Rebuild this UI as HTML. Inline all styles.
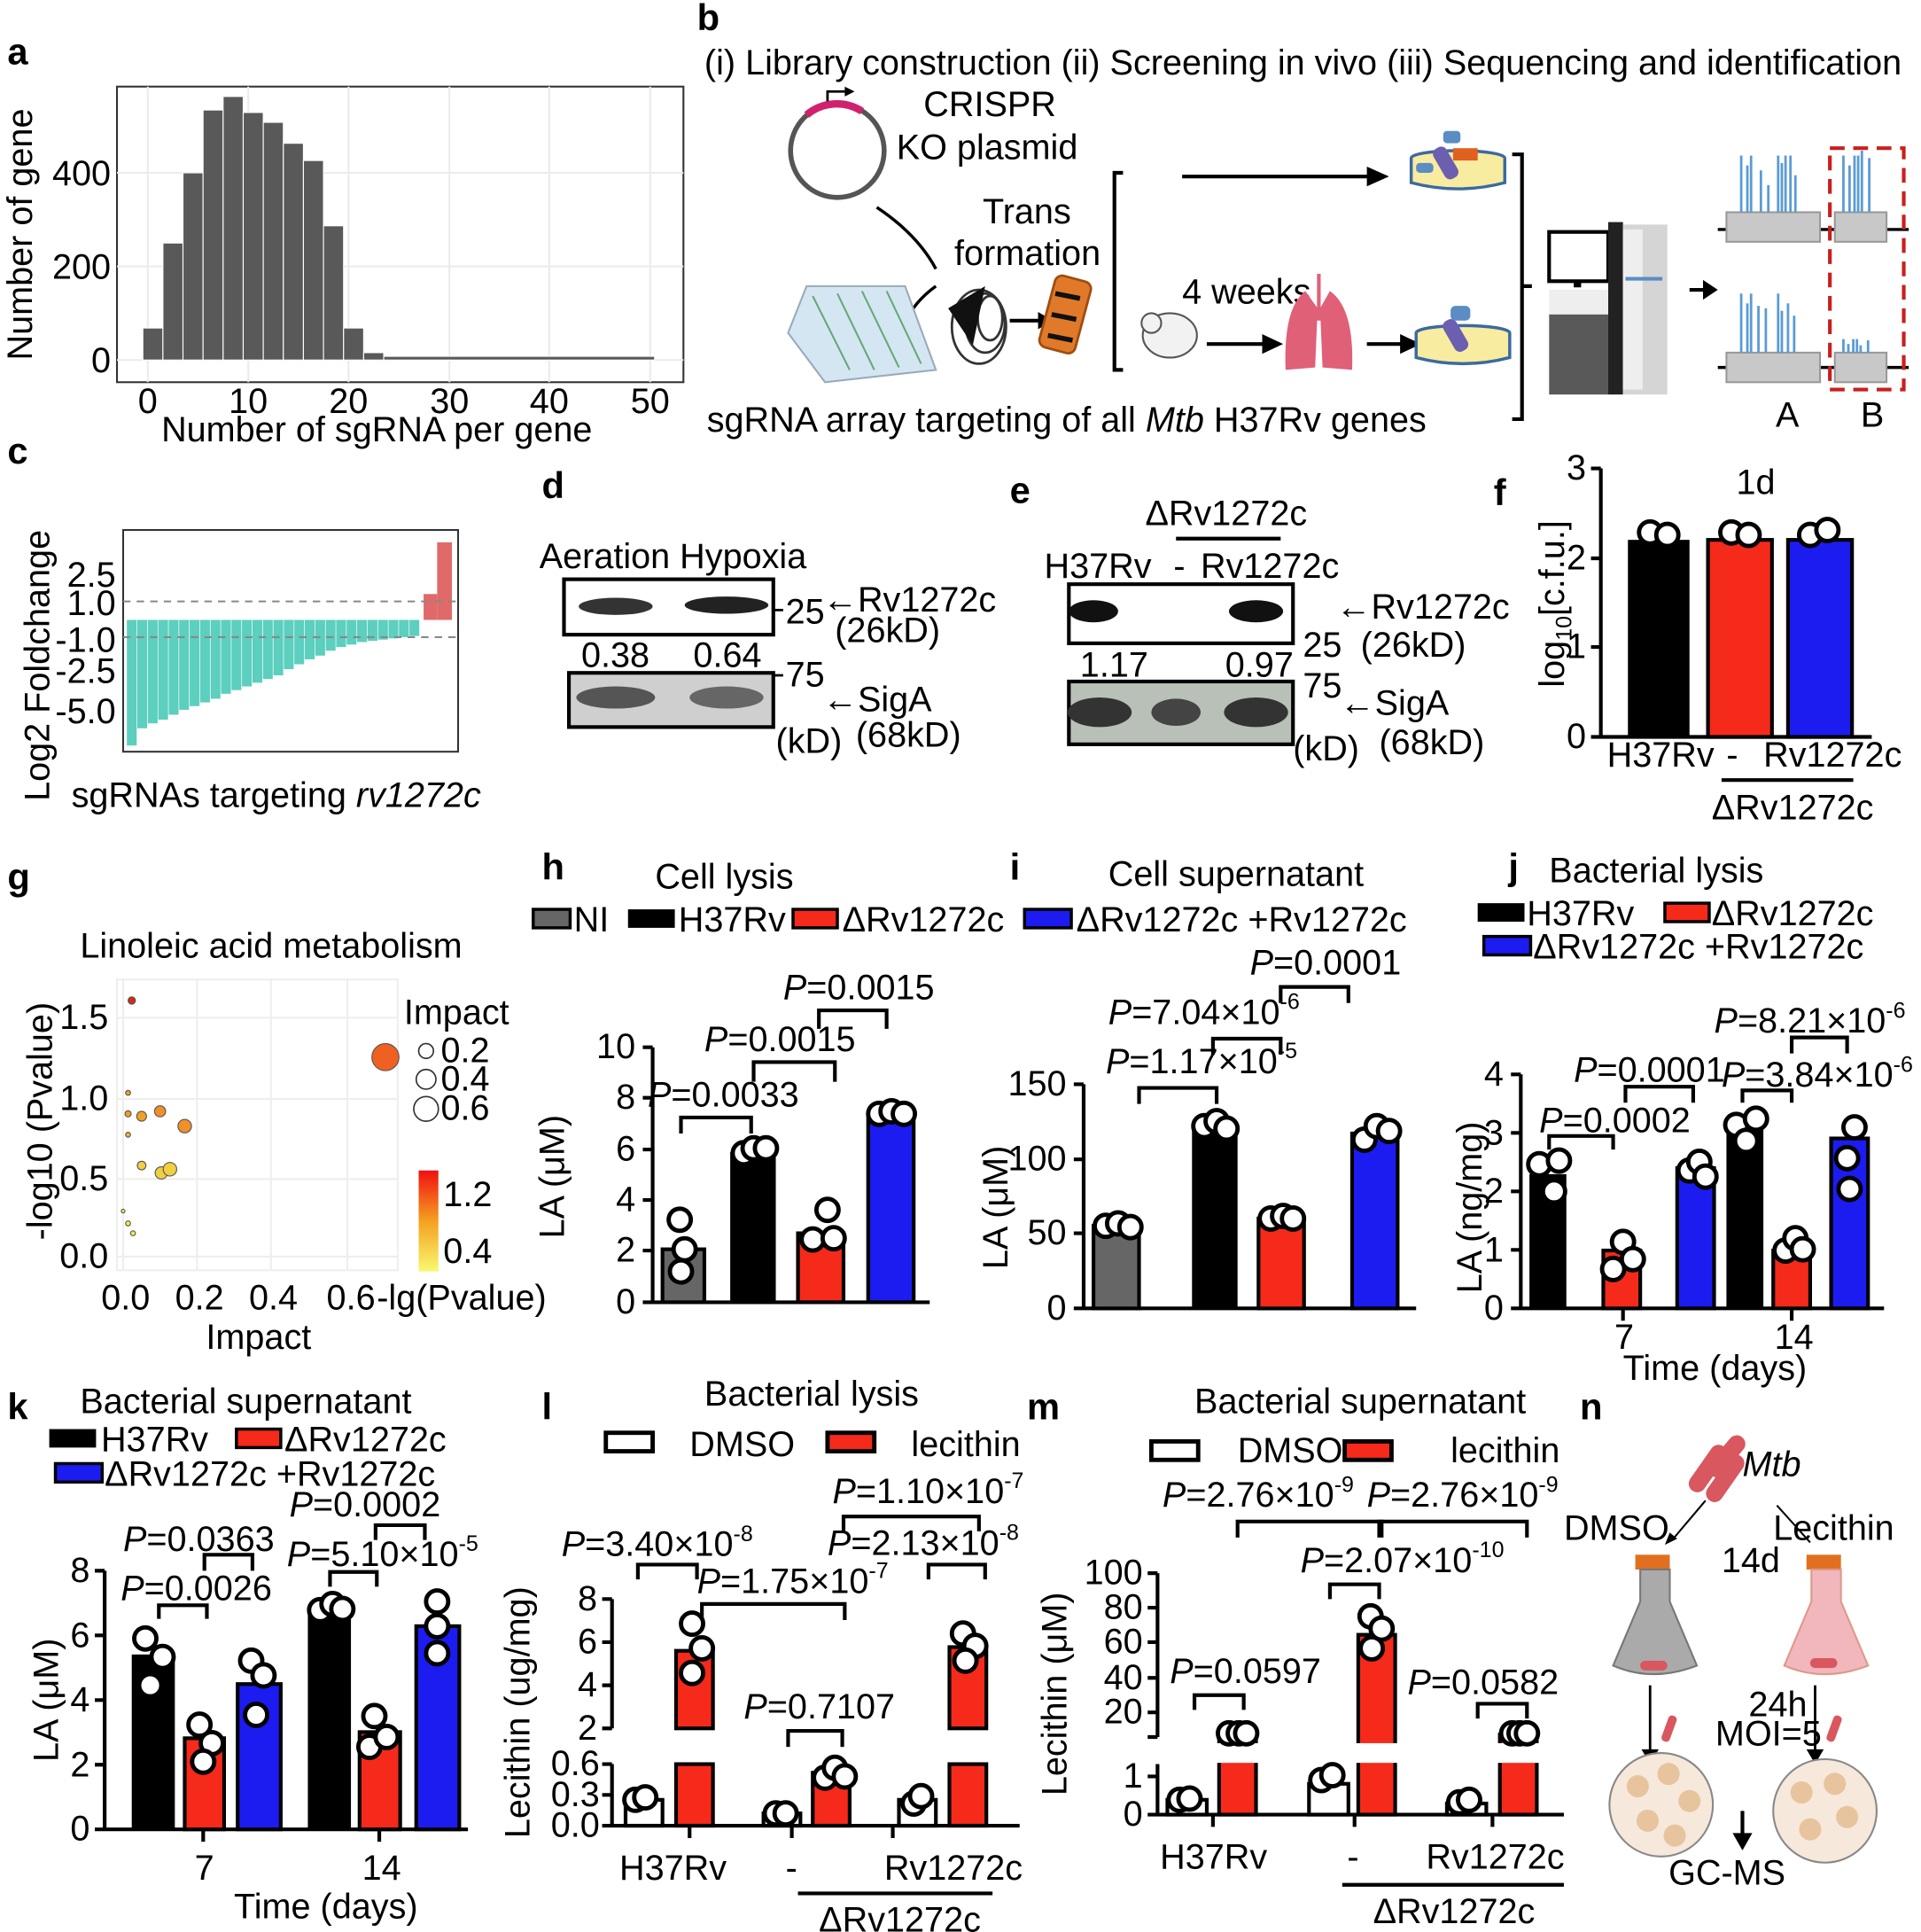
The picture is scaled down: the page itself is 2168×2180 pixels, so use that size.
<!DOCTYPE html>
<html><head><meta charset="utf-8">
<style>
html,body{margin:0;padding:0;background:#fff;}
svg{display:block;}
text{font-family:"Liberation Sans",sans-serif;font-size:28.5px;fill:#000;}
.b{font-weight:bold;font-size:30px;}
.s{font-size:18px;}
.ax{stroke:#000;stroke-width:3;fill:none;}
.br{stroke:#000;stroke-width:3;fill:none;}
.d{fill:#fff;stroke:#000;stroke-width:3.5;}
</style></head><body>
<svg width="2168" height="2180" viewBox="0 0 1560 1568" xmlns="http://www.w3.org/2000/svg">
<rect width="1560" height="1568" fill="#fff"/>

<!-- ===== a ===== -->
<text x="6" y="52" class="b">a</text>
<rect x="95" y="70" width="460" height="240" fill="#fff" stroke="#333" stroke-width="1.5"/>
<g stroke="#ebebeb" stroke-width="1.5">
<line x1="120" y1="70" x2="120" y2="310"/><line x1="201.6" y1="70" x2="201.6" y2="310"/><line x1="283" y1="70" x2="283" y2="310"/><line x1="365" y1="70" x2="365" y2="310"/><line x1="446" y1="70" x2="446" y2="310"/><line x1="528" y1="70" x2="528" y2="310"/>
<line x1="95" y1="292" x2="555" y2="292"/><line x1="95" y1="216" x2="555" y2="216"/><line x1="95" y1="140" x2="555" y2="140"/>
</g>
<g fill="#595959" stroke="#fff" stroke-width="0.8">
<rect x="116" y="266" width="16.3" height="26"/>
<rect x="132.3" y="197" width="16.3" height="95"/>
<rect x="148.6" y="140" width="16.3" height="152"/>
<rect x="164.9" y="89" width="16.3" height="203"/>
<rect x="181.2" y="78" width="16.3" height="214"/>
<rect x="197.5" y="91" width="16.3" height="201"/>
<rect x="213.8" y="99" width="16.3" height="193"/>
<rect x="230.1" y="116" width="16.3" height="176"/>
<rect x="246.4" y="130" width="16.3" height="162"/>
<rect x="262.7" y="183" width="16.3" height="109"/>
<rect x="279" y="266" width="16.3" height="26"/>
<rect x="295.3" y="286" width="16.3" height="6"/>
<rect x="311.6" y="289" width="220" height="3"/>
</g>
<g text-anchor="end"><text x="90" y="302">0</text><text x="90" y="226">200</text><text x="90" y="150">400</text></g>
<g text-anchor="middle"><text x="120" y="335">0</text><text x="201.6" y="335">10</text><text x="283" y="335">20</text><text x="365" y="335">30</text><text x="446" y="335">40</text><text x="528" y="335">50</text>
<text x="306" y="358">Number of sgRNA per gene</text>
<text transform="translate(26,190) rotate(-90)">Number of gene</text></g>

<!-- ===== b ===== -->
<text x="566" y="24" class="b">b</text>
<text x="572" y="60">(i) Library construction (ii) Screening in vivo (iii) Sequencing and identification</text>
<circle cx="680" cy="122" r="38" fill="none" stroke="#555" stroke-width="4"/>
<path d="M655 93 A38 38 0 0 1 700 90" fill="none" stroke="#d0216e" stroke-width="6"/>
<path d="M672 82 L672 74 L688 74" fill="none" stroke="#000" stroke-width="2"/><path d="M686 70 L694 74 L686 78Z"/>
<text x="750" y="94">CRISPR</text><text x="728" y="129">KO plasmid</text>
<text x="798" y="181">Trans</text><text x="775" y="215">formation</text>
<path d="M712 168 Q745 190 760 218" fill="none" stroke="#000" stroke-width="2.5"/>
<path d="M760 232 Q742 245 735 262" fill="none" stroke="#000" stroke-width="2.5"/>
<polygon points="655,232 735,232 760,300 670,310 640,270" fill="#d5e6f3" stroke="#9ab" stroke-width="1.5"/>
<g stroke="#6a7" stroke-width="1.5"><line x1="660" y1="240" x2="690" y2="300"/><line x1="680" y1="238" x2="710" y2="300"/><line x1="700" y1="236" x2="730" y2="298"/><line x1="720" y1="236" x2="748" y2="295"/></g>
<g fill="none" stroke="#333" stroke-width="2"><ellipse cx="795" cy="265" rx="22" ry="30"/><ellipse cx="800" cy="262" rx="16" ry="24"/><ellipse cx="804" cy="258" rx="10" ry="18"/></g>
<polygon points="770,250 800,232 790,280" fill="#111"/>
<line x1="820" y1="260" x2="845" y2="260" stroke="#000" stroke-width="3"/><path d="M843 253 L855 260 L843 267Z"/>
<rect x="850" y="225" width="30" height="60" rx="6" fill="#e07a2a" stroke="#a04d10" stroke-width="2" transform="rotate(15 865 255)"/>
<g stroke="#111" stroke-width="4"><line x1="857" y1="238" x2="877" y2="242"/><line x1="854" y1="255" x2="874" y2="259"/><line x1="851" y1="272" x2="871" y2="276"/></g>
<path d="M912 140 L905 140 L905 300 L912 300" class="br"/>
<line x1="960" y1="143" x2="1115" y2="143" stroke="#000" stroke-width="3"/><path d="M1110 135 L1128 143 L1110 151Z"/>
<g><ellipse cx="1184" cy="128" rx="38" ry="6" fill="#f8eca0" stroke="#3b6aa0" stroke-width="2.5"/><path d="M1146 128 L1146 148 Q1184 158 1222 148 L1222 128" fill="#f8eca0" stroke="#3b6aa0" stroke-width="2.5"/>
<rect x="1168" y="118" width="12" height="28" rx="5" fill="#6c5fb0" transform="rotate(-30 1174 132)"/><rect x="1180" y="120" width="20" height="10" fill="#e06020"/><rect x="1150" y="132" width="14" height="8" rx="3" fill="#5b8dc4"/><rect x="1172" y="106" width="14" height="10" rx="3" fill="#5b8dc4"/></g>
<text x="960" y="246">4 weeks</text>
<ellipse cx="950" cy="272" rx="22" ry="18" fill="#f2f2f2" stroke="#555" stroke-width="1.5"/><circle cx="935" cy="262" r="8" fill="#f2f2f2" stroke="#555" stroke-width="1.5"/>
<line x1="980" y1="279" x2="1028" y2="279" stroke="#000" stroke-width="3"/><path d="M1025 271 L1042 279 L1025 287Z"/>
<path d="M1060 236 Q1042 250 1044 300 L1068 298 L1070 250 Z" fill="#e06078"/><path d="M1080 236 Q1100 250 1098 300 L1074 298 L1072 250 Z" fill="#e06078"/>
<line x1="1071" y1="222" x2="1071" y2="260" stroke="#e06078" stroke-width="3"/>
<line x1="1110" y1="279" x2="1140" y2="279" stroke="#000" stroke-width="3"/><path d="M1137 271 L1154 279 L1137 287Z"/>
<g><ellipse cx="1188" cy="270" rx="38" ry="6" fill="#f8eca0" stroke="#3b6aa0" stroke-width="2.5"/><path d="M1150 270 L1150 290 Q1188 300 1226 290 L1226 270" fill="#f8eca0" stroke="#3b6aa0" stroke-width="2.5"/>
<rect x="1176" y="258" width="12" height="28" rx="5" fill="#6c5fb0" transform="rotate(-30 1182 272)"/><rect x="1178" y="248" width="16" height="12" rx="4" fill="#5b8dc4"/></g>
<path d="M1228 125 L1236 125 L1236 340 L1228 340 M1236 232 L1244 232" class="br"/>
<rect x="1258" y="188" width="48" height="40" fill="#fff" stroke="#000" stroke-width="3"/><rect x="1278" y="228" width="6" height="5"/>
<rect x="1258" y="235" width="48" height="20" fill="#eee"/><rect x="1258" y="255" width="48" height="65" fill="#595959"/>
<rect x="1306" y="180" width="12" height="140" fill="#222"/>
<rect x="1318" y="182" width="36" height="138" fill="#d5d5d5"/><rect x="1318" y="186" width="16" height="130" fill="#eee"/>
<line x1="1320" y1="226" x2="1350" y2="226" stroke="#5b8dc4" stroke-width="3"/>
<line x1="1372" y1="235" x2="1385" y2="235" stroke="#000" stroke-width="3"/><path d="M1383 227 L1395 235 L1383 243Z"/>
<line x1="1395" y1="186" x2="1550" y2="186" stroke="#000" stroke-width="2.5"/>
<rect x="1402" y="172" width="76" height="24" fill="#c8c8c8" stroke="#999" stroke-width="1.5"/><rect x="1490" y="172" width="42" height="24" fill="#c8c8c8" stroke="#999" stroke-width="1.5"/>
<g stroke="#5b9bd5" stroke-width="2"><line x1="1414" y1="172" x2="1414" y2="126"/><line x1="1419" y1="172" x2="1419" y2="134"/><line x1="1422" y1="172" x2="1422" y2="126"/><line x1="1430" y1="172" x2="1430" y2="138"/><line x1="1436" y1="172" x2="1436" y2="150"/><line x1="1444" y1="172" x2="1444" y2="126"/><line x1="1447" y1="172" x2="1447" y2="132"/><line x1="1450" y1="172" x2="1450" y2="126"/><line x1="1454" y1="172" x2="1454" y2="126"/><line x1="1458" y1="172" x2="1458" y2="142"/>
<line x1="1497" y1="172" x2="1497" y2="126"/><line x1="1502" y1="172" x2="1502" y2="134"/><line x1="1506" y1="172" x2="1506" y2="126"/><line x1="1509" y1="172" x2="1509" y2="126"/><line x1="1512" y1="172" x2="1512" y2="122"/><line x1="1518" y1="172" x2="1518" y2="128"/></g>
<line x1="1395" y1="298" x2="1550" y2="298" stroke="#000" stroke-width="2.5"/>
<rect x="1402" y="286" width="76" height="24" fill="#c8c8c8" stroke="#999" stroke-width="1.5"/><rect x="1490" y="286" width="42" height="24" fill="#c8c8c8" stroke="#999" stroke-width="1.5"/>
<g stroke="#5b9bd5" stroke-width="2"><line x1="1414" y1="286" x2="1414" y2="238"/><line x1="1419" y1="286" x2="1419" y2="246"/><line x1="1422" y1="286" x2="1422" y2="238"/><line x1="1428" y1="286" x2="1428" y2="248"/><line x1="1434" y1="286" x2="1434" y2="250"/><line x1="1444" y1="286" x2="1444" y2="238"/><line x1="1447" y1="286" x2="1447" y2="252"/><line x1="1452" y1="286" x2="1452" y2="246"/><line x1="1457" y1="286" x2="1457" y2="256"/>
<line x1="1497" y1="286" x2="1497" y2="275"/><line x1="1501" y1="286" x2="1501" y2="279"/><line x1="1505" y1="286" x2="1505" y2="275"/><line x1="1508" y1="286" x2="1508" y2="275"/><line x1="1511" y1="286" x2="1511" y2="280"/><line x1="1517" y1="286" x2="1517" y2="276"/></g>
<rect x="1486" y="120" width="60" height="196" fill="none" stroke="#c8201e" stroke-width="3" stroke-dasharray="12 7"/>
<text x="1442" y="346">A</text><text x="1511" y="346">B</text>
<text x="574" y="350">sgRNA array targeting of all <tspan font-style="italic">Mtb</tspan> H37Rv genes</text>

<!-- ===== c ===== -->
<text x="6" y="376" class="b">c</text>
<rect x="100" y="430" width="272" height="180" fill="#fff" stroke="#333" stroke-width="1.5"/>
<g fill="#5ccfbf">
<rect x="103" y="503" width="8" height="102"/><rect x="111.5" y="503" width="8" height="88"/><rect x="120" y="503" width="8" height="84"/><rect x="128.5" y="503" width="8" height="81"/><rect x="137" y="503" width="8" height="77"/><rect x="145.5" y="503" width="8" height="73"/><rect x="154" y="503" width="8" height="70"/><rect x="162.5" y="503" width="8" height="67"/><rect x="171" y="503" width="8" height="64"/><rect x="179.5" y="503" width="8" height="60"/><rect x="188" y="503" width="8" height="57"/><rect x="196.5" y="503" width="8" height="54"/><rect x="205" y="503" width="8" height="51"/><rect x="213.5" y="503" width="8" height="48"/><rect x="222" y="503" width="8" height="45"/><rect x="230.5" y="503" width="8" height="40"/><rect x="239" y="503" width="8" height="36"/><rect x="247.5" y="503" width="8" height="32"/><rect x="256" y="503" width="8" height="29"/><rect x="264.5" y="503" width="8" height="25"/><rect x="273" y="503" width="8" height="22"/><rect x="281.5" y="503" width="8" height="20"/><rect x="290" y="503" width="8" height="18"/><rect x="298.5" y="503" width="8" height="17"/><rect x="307" y="503" width="8" height="16"/><rect x="315.5" y="503" width="8" height="15"/><rect x="324" y="503" width="8" height="14"/><rect x="332.5" y="503" width="8" height="13"/></g>
<g fill="#e06a6a"><rect x="344" y="482" width="11" height="21"/><rect x="355" y="440" width="12" height="63"/></g>
<g stroke="#888" stroke-width="1.5" stroke-dasharray="6 5"><line x1="100" y1="488" x2="372" y2="488"/><line x1="100" y1="517" x2="372" y2="517"/></g>
<g text-anchor="end"><text x="94" y="476">2.5</text><text x="94" y="499">1.0</text><text x="94" y="529">-1.0</text><text x="94" y="554">-2.5</text><text x="94" y="587">-5.0</text></g>
<text transform="translate(40,540) rotate(-90)" text-anchor="middle">Log2 Foldchange</text>
<text x="58" y="655">sgRNAs targeting <tspan font-style="italic">rv1272c</tspan></text>

<!-- ===== d ===== -->
<text x="440" y="404" class="b">d</text>
<text x="438" y="461">Aeration Hypoxia</text>
<rect x="458" y="470" width="170" height="45" fill="#fff" stroke="#000" stroke-width="3"/>
<ellipse cx="500" cy="492" rx="30" ry="7" fill="#333"/><ellipse cx="590" cy="491" rx="34" ry="7" fill="#222"/>
<text x="472" y="541">0.38</text><text x="563" y="541">0.64</text>
<rect x="462" y="546" width="166" height="44" fill="#cfcfcf" stroke="#000" stroke-width="3"/>
<ellipse cx="500" cy="566" rx="32" ry="9" fill="#555"/><ellipse cx="590" cy="566" rx="30" ry="9" fill="#666"/>
<line x1="628" y1="495" x2="636" y2="495" stroke="#000" stroke-width="2"/><text x="638" y="506">25</text>
<line x1="628" y1="548" x2="636" y2="548" stroke="#000" stroke-width="2"/><text x="638" y="557">75</text>
<text x="668" y="496">←Rv1272c</text><text x="678" y="521">(26kD)</text>
<text x="668" y="577">←SigA</text><text x="630" y="611">(kD)</text><text x="695" y="606">(68kD)</text>

<!-- ===== e ===== -->
<text x="820" y="408" class="b">e</text>
<text x="930" y="426">ΔRv1272c</text>
<line x1="955" y1="437" x2="1040" y2="437" stroke="#000" stroke-width="3"/>
<text x="848" y="469">H37Rv</text><text x="953" y="469">-</text><text x="975" y="469">Rv1272c</text>
<rect x="868" y="474" width="182" height="48" fill="#fff" stroke="#000" stroke-width="3"/>
<ellipse cx="888" cy="496" rx="20" ry="9" fill="#111"/><ellipse cx="1020" cy="496" rx="22" ry="9" fill="#111"/>
<text x="877" y="549">1.17</text><text x="995" y="549">0.97</text>
<rect x="868" y="553" width="182" height="51" fill="#b8c0b8" stroke="#000" stroke-width="3"/>
<ellipse cx="893" cy="578" rx="26" ry="12" fill="#333"/><ellipse cx="955" cy="578" rx="20" ry="11" fill="#444"/><ellipse cx="1020" cy="578" rx="26" ry="12" fill="#333"/>
<text x="1058" y="533">25</text><text x="1058" y="566">75</text>
<text x="1085" y="502">←Rv1272c</text><text x="1105" y="533">(26kD)</text>
<text x="1088" y="580">←SigA</text><text x="1050" y="617">(kD)</text><text x="1120" y="612">(68kD)</text>

<!-- ===== f ===== -->
<text x="1213" y="410" class="b">f</text>
<text x="1410" y="401">1d</text>
<path d="M1300 380 L1300 598 L1520 598 M1292 380 L1300 380 M1292 453 L1300 453 M1292 525 L1300 525 M1292 598 L1300 598" class="ax"/>
<g text-anchor="end"><text x="1288" y="607">0</text><text x="1288" y="534">1</text><text x="1288" y="462">2</text><text x="1288" y="389">3</text></g>
<text transform="translate(1270,490) rotate(-90)" text-anchor="middle">log<tspan class="s" dy="6">10</tspan><tspan dy="-6">[c.f.u.]</tspan></text>
<rect x="1322" y="438" width="50" height="160" fill="#000"/><rect x="1387" y="438" width="52" height="160" fill="#f52a1a" stroke="#000" stroke-width="3"/><rect x="1452" y="438" width="52" height="160" fill="#1c1cf0" stroke="#000" stroke-width="3"/>
<circle cx="1340" cy="432" r="9" class="d"/><circle cx="1354" cy="434" r="9" class="d"/><circle cx="1406" cy="432" r="9" class="d"/><circle cx="1420" cy="434" r="9" class="d"/><circle cx="1470" cy="434" r="9" class="d"/><circle cx="1484" cy="430" r="9" class="d"/>
<text x="1305" y="622">H37Rv</text><text x="1402" y="622">-</text><text x="1432" y="622">Rv1272c</text>
<line x1="1398" y1="633" x2="1505" y2="633" stroke="#000" stroke-width="3"/>
<text x="1390" y="665">ΔRv1272c</text>

<!-- ===== g ===== -->
<text x="6" y="722" class="b">g</text>
<text x="65" y="777">Linoleic acid metabolism</text>
<rect x="95" y="795" width="228" height="236" fill="#fff" stroke="#eee" stroke-width="1.5"/>
<g stroke="#eee" stroke-width="1.5"><line x1="100" y1="795" x2="100" y2="1031"/><line x1="160" y1="795" x2="160" y2="1031"/><line x1="220" y1="795" x2="220" y2="1031"/><line x1="282" y1="795" x2="282" y2="1031"/><line x1="95" y1="1020" x2="323" y2="1020"/><line x1="95" y1="957" x2="323" y2="957"/><line x1="95" y1="892" x2="323" y2="892"/><line x1="95" y1="826" x2="323" y2="826"/></g>
<g text-anchor="end"><text x="88" y="1029">0.0</text><text x="88" y="966">0.5</text><text x="88" y="901">1.0</text><text x="88" y="835">1.5</text></g>
<g text-anchor="middle"><text x="102" y="1063">0.0</text><text x="162" y="1063">0.2</text><text x="222" y="1063">0.4</text><text x="285" y="1063">0.6</text><text x="210" y="1095">Impact</text>
<text transform="translate(42,910) rotate(-90)">-log10 (Pvalue)</text></g>
<text x="306" y="1063">-lg(Pvalue)</text>
<g stroke="#555" stroke-width="0.8">
<circle cx="107" cy="812" r="3" fill="#d42a1a"/><circle cx="313" cy="858" r="11" fill="#f06020"/>
<circle cx="104" cy="887" r="2" fill="#f4a020"/><circle cx="104" cy="904" r="2.5" fill="#f0a020"/><circle cx="115" cy="906" r="4" fill="#f0a028"/><circle cx="130" cy="902" r="4.5" fill="#f09028"/><circle cx="150" cy="914" r="5.5" fill="#f09028"/>
<circle cx="104" cy="921" r="2" fill="#f0b030"/><circle cx="115" cy="946" r="3.5" fill="#f0d040"/><circle cx="131" cy="952" r="5" fill="#f0d040"/><circle cx="138" cy="949" r="5.5" fill="#f0d040"/>
<circle cx="100" cy="983" r="1.5" fill="#f0f040"/><circle cx="104" cy="993" r="2" fill="#f0f040"/><circle cx="108" cy="1001" r="2" fill="#f0f040"/></g>
<text x="328" y="831">Impact</text>
<g fill="#fff" stroke="#333" stroke-width="1.2"><circle cx="346" cy="853" r="6"/><circle cx="346" cy="876" r="8"/><circle cx="346" cy="900" r="10"/></g>
<text x="358" y="862">0.2</text><text x="358" y="885">0.4</text><text x="358" y="909">0.6</text>
<defs><linearGradient id="cg" x1="0" y1="0" x2="0" y2="1"><stop offset="0" stop-color="#f01010"/><stop offset="0.5" stop-color="#f5a020"/><stop offset="1" stop-color="#f8f870"/></linearGradient></defs>
<rect x="340" y="950" width="16" height="82" fill="url(#cg)"/>
<text x="360" y="979">1.2</text><text x="360" y="1025">0.4</text>

<!-- ===== h ===== -->
<text x="440" y="714" class="b">h</text>
<text x="532" y="721">Cell lysis</text>
<rect x="433" y="738" width="30" height="15" fill="#666" stroke="#000" stroke-width="2.5"/><text x="466" y="756">NI</text>
<rect x="510" y="738" width="38" height="15" fill="#000"/><text x="551" y="756">H37Rv</text>
<rect x="644" y="738" width="36" height="15" fill="#f52a1a" stroke="#000" stroke-width="2.5"/><text x="684" y="756">ΔRv1272c</text>
<rect x="832" y="738" width="38" height="15" fill="#1c1cf0" stroke="#000" stroke-width="2.5"/><text x="874" y="756">ΔRv1272c +Rv1272c</text>
<path d="M530 850 L530 1057 L755 1057 M522 850 L530 850 M522 891 L530 891 M522 933 L530 933 M522 974 L530 974 M522 1015 L530 1015 M522 1057 L530 1057" class="ax"/>
<g text-anchor="end"><text x="516" y="1066">0</text><text x="516" y="1024">2</text><text x="516" y="983">4</text><text x="516" y="942">6</text><text x="516" y="900">8</text><text x="516" y="859">10</text></g>
<text transform="translate(458,955) rotate(-90)" text-anchor="middle">LA (μM)</text>
<rect x="538" y="1014" width="34" height="43" fill="#666" stroke="#000" stroke-width="3"/>
<rect x="593" y="935" width="37" height="122" fill="#000"/>
<rect x="648" y="1001" width="37" height="56" fill="#f52a1a" stroke="#000" stroke-width="3"/>
<rect x="705" y="904" width="37" height="153" fill="#1c1cf0" stroke="#000" stroke-width="3"/>
<circle cx="553" cy="1032" r="9" class="d"/><circle cx="556" cy="1014" r="9" class="d"/><circle cx="552" cy="990" r="9" class="d"/>
<circle cx="604" cy="936" r="9" class="d"/><circle cx="612" cy="932" r="9" class="d"/><circle cx="622" cy="932" r="9" class="d"/>
<circle cx="660" cy="1006" r="9" class="d"/><circle cx="672" cy="982" r="9" class="d"/><circle cx="677" cy="1005" r="9" class="d"/>
<circle cx="714" cy="904" r="9" class="d"/><circle cx="724" cy="902" r="9" class="d"/><circle cx="734" cy="904" r="9" class="d"/>
<path d="M553 920 L553 907 L610 907 L610 920" class="br"/><path d="M612 878 L612 862 L678 862 L678 878" class="br"/><path d="M665 835 L665 820 L720 820 L720 835" class="br"/>
<text x="526" y="898"><tspan font-style="italic">P</tspan>=0.0033</text><text x="572" y="853"><tspan font-style="italic">P</tspan>=0.0015</text><text x="636" y="811"><tspan font-style="italic">P</tspan>=0.0015</text>

<!-- ===== i ===== -->
<text x="820" y="714" class="b">i</text>
<text x="900" y="719">Cell supernatant</text>
<path d="M880 880 L880 1062 L1150 1062 M872 880 L880 880 M872 941 L880 941 M872 1001 L880 1001 M872 1062 L880 1062" class="ax"/>
<g text-anchor="end"><text x="866" y="1071">0</text><text x="866" y="1010">50</text><text x="866" y="950">100</text><text x="866" y="889">150</text></g>
<text transform="translate(818,980) rotate(-90)" text-anchor="middle">LA (μM)</text>
<rect x="888" y="995" width="37" height="67" fill="#666" stroke="#000" stroke-width="3"/>
<rect x="968" y="914" width="37" height="148" fill="#000"/>
<rect x="1022" y="989" width="37" height="73" fill="#f52a1a" stroke="#000" stroke-width="3"/>
<rect x="1098" y="920" width="37" height="142" fill="#1c1cf0" stroke="#000" stroke-width="3"/>
<circle cx="898" cy="995" r="9" class="d"/><circle cx="908" cy="993" r="9" class="d"/><circle cx="918" cy="996" r="9" class="d"/>
<circle cx="978" cy="914" r="9" class="d"/><circle cx="988" cy="910" r="9" class="d"/><circle cx="996" cy="916" r="9" class="d"/>
<circle cx="1032" cy="989" r="9" class="d"/><circle cx="1042" cy="987" r="9" class="d"/><circle cx="1050" cy="989" r="9" class="d"/>
<circle cx="1108" cy="925" r="9" class="d"/><circle cx="1118" cy="914" r="9" class="d"/><circle cx="1128" cy="918" r="9" class="d"/>
<path d="M925 896 L925 883 L988 883 L988 896" class="br"/><path d="M985 856 L985 843 L1040 843 L1040 856" class="br"/><path d="M1040 814 L1040 801 L1095 801 L1095 814" class="br"/>
<text x="898" y="871"><tspan font-style="italic">P</tspan>=1.17×10<tspan class="s" dy="-12">-5</tspan></text>
<text x="900" y="831"><tspan font-style="italic">P</tspan>=7.04×10<tspan class="s" dy="-12">-6</tspan></text>
<text x="1015" y="791"><tspan font-style="italic">P</tspan>=0.0001</text>

<!-- ===== j ===== -->
<text x="1225" y="714" class="b">j</text>
<text x="1258" y="716">Bacterial lysis</text>
<rect x="1200" y="733" width="38" height="15" fill="#000"/><text x="1240" y="751">H37Rv</text>
<rect x="1352" y="733" width="36" height="15" fill="#f52a1a" stroke="#000" stroke-width="2.5"/><text x="1390" y="751">ΔRv1272c</text>
<rect x="1205" y="760" width="38" height="15" fill="#1c1cf0" stroke="#000" stroke-width="2.5"/><text x="1245" y="778">ΔRv1272c +Rv1272c</text>
<path d="M1235 872 L1235 1062 L1530 1062 M1227 872 L1235 872 M1227 919.5 L1235 919.5 M1227 967 L1235 967 M1227 1014.5 L1235 1014.5 M1227 1062 L1235 1062 M1318 1062 L1318 1072 M1455 1062 L1455 1072" class="ax"/>
<g text-anchor="end"><text x="1221" y="1071">0</text><text x="1221" y="1024">1</text><text x="1221" y="976">2</text><text x="1221" y="929">3</text><text x="1221" y="881">4</text></g>
<text transform="translate(1203,980) rotate(-90)" text-anchor="middle">LA (ng/mg)</text>
<rect x="1242" y="953" width="30" height="109" fill="#000"/>
<rect x="1302" y="1015" width="30" height="47" fill="#f52a1a" stroke="#000" stroke-width="3"/>
<rect x="1362" y="948" width="30" height="114" fill="#1c1cf0" stroke="#000" stroke-width="3"/>
<rect x="1402" y="910" width="30" height="152" fill="#000"/>
<rect x="1440" y="1015" width="30" height="47" fill="#f52a1a" stroke="#000" stroke-width="3"/>
<rect x="1487" y="924" width="30" height="138" fill="#1c1cf0" stroke="#000" stroke-width="3"/>
<circle cx="1250" cy="945" r="9" class="d"/><circle cx="1262" cy="967" r="9" class="d"/><circle cx="1266" cy="942" r="9" class="d"/>
<circle cx="1310" cy="1030" r="9" class="d"/><circle cx="1318" cy="1008" r="9" class="d"/><circle cx="1326" cy="1022" r="9" class="d"/>
<circle cx="1372" cy="950" r="9" class="d"/><circle cx="1380" cy="943" r="9" class="d"/><circle cx="1385" cy="955" r="9" class="d"/>
<circle cx="1410" cy="913" r="9" class="d"/><circle cx="1418" cy="926" r="9" class="d"/><circle cx="1426" cy="908" r="9" class="d"/>
<circle cx="1450" cy="1015" r="9" class="d"/><circle cx="1458" cy="1005" r="9" class="d"/><circle cx="1464" cy="1014" r="9" class="d"/>
<circle cx="1500" cy="940" r="9" class="d"/><circle cx="1506" cy="915" r="9" class="d"/><circle cx="1502" cy="965" r="9" class="d"/>
<path d="M1258 933 L1258 922 L1310 922 L1310 933" class="br"/><path d="M1320 895 L1320 882 L1375 882 L1375 895" class="br"/>
<path d="M1415 895 L1415 885 L1455 885 L1455 895" class="br"/><path d="M1455 855 L1455 842 L1500 842 L1500 855" class="br"/>
<text x="1250" y="919"><tspan font-style="italic">P</tspan>=0.0002</text><text x="1278" y="878"><tspan font-style="italic">P</tspan>=0.0001</text>
<text x="1398" y="882"><tspan font-style="italic">P</tspan>=3.84×10<tspan class="s" dy="-12">-6</tspan></text>
<text x="1392" y="838"><tspan font-style="italic">P</tspan>=8.21×10<tspan class="s" dy="-12">-6</tspan></text>
<text x="1311" y="1095">7</text><text x="1441" y="1095">14</text><text x="1318" y="1120">Time (days)</text>

<!-- ===== k ===== -->
<text x="6" y="1152" class="b">k</text>
<text x="65" y="1147">Bacterial supernatant</text>
<rect x="40" y="1160" width="38" height="15" fill="#000"/><text x="82" y="1178">H37Rv</text>
<rect x="192" y="1160" width="36" height="15" fill="#f52a1a" stroke="#000" stroke-width="2.5"/><text x="231" y="1178">ΔRv1272c</text>
<rect x="45" y="1188" width="38" height="15" fill="#1c1cf0" stroke="#000" stroke-width="2.5"/><text x="85" y="1206">ΔRv1272c +Rv1272c</text>
<path d="M85 1275 L85 1485 L380 1485 M77 1275 L85 1275 M77 1327.5 L85 1327.5 M77 1380 L85 1380 M77 1432.5 L85 1432.5 M77 1485 L85 1485 M165 1485 L165 1495 M308 1485 L308 1495" class="ax"/>
<g text-anchor="end"><text x="73" y="1494">0</text><text x="73" y="1442">2</text><text x="73" y="1389">4</text><text x="73" y="1337">6</text><text x="73" y="1284">8</text></g>
<text transform="translate(47,1380) rotate(-90)" text-anchor="middle">LA (μM)</text>
<rect x="107" y="1343" width="35" height="142" fill="#000"/>
<rect x="150" y="1411" width="32" height="74" fill="#f52a1a" stroke="#000" stroke-width="3"/>
<rect x="193" y="1367" width="35" height="118" fill="#1c1cf0" stroke="#000" stroke-width="3"/>
<rect x="250" y="1304" width="35" height="181" fill="#000"/>
<rect x="292" y="1406" width="33" height="79" fill="#f52a1a" stroke="#000" stroke-width="3"/>
<rect x="338" y="1320" width="35" height="165" fill="#1c1cf0" stroke="#000" stroke-width="3"/>
<circle cx="118" cy="1330" r="9" class="d"/><circle cx="132" cy="1345" r="9" class="d"/><circle cx="122" cy="1368" r="9" class="d"/>
<circle cx="162" cy="1400" r="9" class="d"/><circle cx="172" cy="1415" r="9" class="d"/><circle cx="165" cy="1430" r="9" class="d"/>
<circle cx="204" cy="1348" r="9" class="d"/><circle cx="214" cy="1360" r="9" class="d"/><circle cx="208" cy="1392" r="9" class="d"/>
<circle cx="260" cy="1307" r="9" class="d"/><circle cx="270" cy="1302" r="9" class="d"/><circle cx="278" cy="1306" r="9" class="d"/>
<circle cx="304" cy="1393" r="9" class="d"/><circle cx="300" cy="1418" r="9" class="d"/><circle cx="314" cy="1410" r="9" class="d"/>
<circle cx="355" cy="1300" r="9" class="d"/><circle cx="355" cy="1320" r="9" class="d"/><circle cx="355" cy="1342" r="9" class="d"/>
<path d="M129 1314 L129 1303 L168 1303 L168 1314" class="br"/><path d="M166 1275 L166 1262 L205 1262 L205 1275" class="br"/>
<path d="M268 1288 L268 1276 L306 1276 L306 1288" class="br"/><path d="M305 1250 L305 1238 L345 1238 L345 1250" class="br"/>
<text x="98" y="1299"><tspan font-style="italic">P</tspan>=0.0026</text><text x="100" y="1259"><tspan font-style="italic">P</tspan>=0.0363</text>
<text x="233" y="1271"><tspan font-style="italic">P</tspan>=5.10×10<tspan class="s" dy="-12">-5</tspan></text>
<text x="235" y="1231"><tspan font-style="italic">P</tspan>=0.0002</text>
<text x="158" y="1526">7</text><text x="294" y="1526">14</text><text x="190" y="1557">Time (days)</text>

<!-- ===== l ===== -->
<text x="440" y="1152" class="b">l</text>
<text x="572" y="1141">Bacterial lysis</text>
<rect x="492" y="1163" width="38" height="15" fill="#fff" stroke="#000" stroke-width="3.5"/><text x="560" y="1182">DMSO</text>
<rect x="672" y="1163" width="38" height="15" fill="#f52a1a" stroke="#000" stroke-width="3.5"/><text x="740" y="1182">lecithin</text>
<path d="M497 1298 L497 1403 M489 1298 L497 1298 M489 1333 L497 1333 M489 1368 L497 1368 M489 1403 L497 1403" class="ax"/>
<path d="M497 1432 L497 1482 L828 1482 M489 1432 L497 1432 M489 1457 L497 1457 M489 1482 L497 1482 M560 1482 L560 1492 M643 1482 L643 1492 M725 1482 L725 1492" class="ax"/>
<g text-anchor="end"><text x="485" y="1307">8</text><text x="485" y="1342">6</text><text x="485" y="1377">4</text><text x="485" y="1412">2</text><text x="487" y="1441">0.6</text><text x="487" y="1466">0.3</text><text x="487" y="1491">0.0</text></g>
<text transform="translate(430,1390) rotate(-90)" text-anchor="middle">Lecithin (ug/mg)</text>
<rect x="508" y="1461" width="30" height="21" fill="#fff" stroke="#000" stroke-width="3"/>
<rect x="549" y="1432" width="30" height="50" fill="#f52a1a" stroke="#000" stroke-width="3"/><rect x="549" y="1340" width="30" height="63" fill="#f52a1a" stroke="#000" stroke-width="3"/>
<rect x="620" y="1472" width="30" height="10" fill="#fff" stroke="#000" stroke-width="3"/>
<rect x="660" y="1439" width="30" height="43" fill="#f52a1a" stroke="#000" stroke-width="3"/>
<rect x="730" y="1461" width="30" height="21" fill="#fff" stroke="#000" stroke-width="3"/>
<rect x="771" y="1432" width="30" height="50" fill="#f52a1a" stroke="#000" stroke-width="3"/><rect x="771" y="1337" width="30" height="66" fill="#f52a1a" stroke="#000" stroke-width="3"/>
<circle cx="516" cy="1461" r="9" class="d"/><circle cx="524" cy="1459" r="9" class="d"/>
<circle cx="562" cy="1318" r="9" class="d"/><circle cx="570" cy="1338" r="9" class="d"/><circle cx="562" cy="1358" r="9" class="d"/>
<circle cx="630" cy="1472" r="9" class="d"/><circle cx="638" cy="1472" r="9" class="d"/>
<circle cx="670" cy="1443" r="9" class="d"/><circle cx="678" cy="1435" r="9" class="d"/><circle cx="686" cy="1442" r="9" class="d"/>
<circle cx="742" cy="1464" r="9" class="d"/><circle cx="748" cy="1458" r="9" class="d"/>
<circle cx="782" cy="1326" r="9" class="d"/><circle cx="792" cy="1336" r="9" class="d"/><circle cx="784" cy="1348" r="9" class="d"/>
<path d="M518 1282 L518 1270 L566 1270 L566 1282" class="br"/>
<path d="M570 1315 L570 1302 L686 1302 L686 1315" class="br"/>
<path d="M640 1418 L640 1405 L684 1405 L684 1418" class="br"/>
<path d="M685 1243 L685 1231 L795 1231 L795 1243" class="br"/>
<path d="M754 1282 L754 1270 L800 1270 L800 1282" class="br"/>
<text x="456" y="1263"><tspan font-style="italic">P</tspan>=3.40×10<tspan class="s" dy="-12">-8</tspan></text>
<text x="566" y="1293"><tspan font-style="italic">P</tspan>=1.75×10<tspan class="s" dy="-12">-7</tspan></text>
<text x="604" y="1395"><tspan font-style="italic">P</tspan>=0.7107</text>
<text x="676" y="1220"><tspan font-style="italic">P</tspan>=1.10×10<tspan class="s" dy="-12">-7</tspan></text>
<text x="672" y="1262"><tspan font-style="italic">P</tspan>=2.13×10<tspan class="s" dy="-12">-8</tspan></text>
<text x="503" y="1526">H37Rv</text><text x="638" y="1526">-</text><text x="718" y="1526">Rv1272c</text>
<line x1="648" y1="1537" x2="806" y2="1537" stroke="#000" stroke-width="3"/>
<text x="665" y="1568">ΔRv1272c</text>

<!-- ===== m ===== -->
<text x="834" y="1152" class="b">m</text>
<text x="970" y="1147">Bacterial supernatant</text>
<rect x="935" y="1170" width="38" height="15" fill="#fff" stroke="#000" stroke-width="3.5"/><text x="1005" y="1187">DMSO</text>
<rect x="1092" y="1170" width="38" height="15" fill="#f52a1a" stroke="#000" stroke-width="3.5"/><text x="1178" y="1187">lecithin</text>
<path d="M940 1277 L940 1410 M932 1277 L940 1277 M932 1305 L940 1305 M932 1333 L940 1333 M932 1362 L940 1362 M932 1390 L940 1390 M932 1410 L940 1410" class="ax"/>
<path d="M940 1432 L940 1473 L1270 1473 M932 1442 L940 1442 M932 1473 L940 1473 M985 1473 L985 1483 M1100 1473 L1100 1483 M1212 1473 L1212 1483" class="ax"/>
<g text-anchor="end"><text x="928" y="1286">100</text><text x="928" y="1314">80</text><text x="928" y="1342">60</text><text x="928" y="1371">40</text><text x="928" y="1399">20</text><text x="928" y="1451">1</text><text x="928" y="1482">0</text></g>
<text transform="translate(866,1375) rotate(-90)" text-anchor="middle">Lecithin (μM)</text>
<rect x="948" y="1461" width="32" height="12" fill="#fff" stroke="#000" stroke-width="3"/>
<rect x="990" y="1408" width="30" height="65" fill="#f52a1a" stroke="#000" stroke-width="3"/>
<rect x="1063" y="1448" width="32" height="25" fill="#fff" stroke="#000" stroke-width="3"/>
<rect x="1103" y="1327" width="30" height="146" fill="#f52a1a" stroke="#000" stroke-width="3"/>
<rect x="1175" y="1464" width="32" height="9" fill="#fff" stroke="#000" stroke-width="3"/>
<rect x="1218" y="1408" width="30" height="65" fill="#f52a1a" stroke="#000" stroke-width="3"/>
<rect x="985" y="1415" width="40" height="16" fill="#fff"/><rect x="1098" y="1415" width="40" height="16" fill="#fff"/><rect x="1213" y="1415" width="40" height="16" fill="#fff"/>
<circle cx="958" cy="1461" r="9" class="d"/><circle cx="966" cy="1460" r="9" class="d"/>
<circle cx="998" cy="1407" r="9" class="d"/><circle cx="1006" cy="1407" r="9" class="d"/><circle cx="1012" cy="1407" r="9" class="d"/>
<circle cx="1073" cy="1445" r="9" class="d"/><circle cx="1082" cy="1441" r="9" class="d"/>
<circle cx="1113" cy="1312" r="9" class="d"/><circle cx="1122" cy="1322" r="9" class="d"/><circle cx="1114" cy="1338" r="9" class="d"/>
<circle cx="1185" cy="1463" r="9" class="d"/><circle cx="1193" cy="1461" r="9" class="d"/>
<circle cx="1228" cy="1407" r="9" class="d"/><circle cx="1234" cy="1407" r="9" class="d"/><circle cx="1240" cy="1407" r="9" class="d"/>
<path d="M1005 1248 L1005 1235 L1122 1235 L1122 1248" class="br"/>
<path d="M1120 1248 L1120 1235 L1240 1235 L1240 1248" class="br"/>
<path d="M1080 1298 L1080 1286 L1120 1286 L1120 1298" class="br"/>
<path d="M970 1388 L970 1376 L1010 1376 L1010 1388" class="br"/>
<path d="M1200 1395 L1200 1383 L1240 1383 L1240 1395" class="br"/>
<text x="944" y="1223"><tspan font-style="italic">P</tspan>=2.76×10<tspan class="s" dy="-12">-9</tspan></text>
<text x="1110" y="1223"><tspan font-style="italic">P</tspan>=2.76×10<tspan class="s" dy="-12">-9</tspan></text>
<text x="1056" y="1276"><tspan font-style="italic">P</tspan>=2.07×10<tspan class="s" dy="-12">-10</tspan></text>
<text x="950" y="1366"><tspan font-style="italic">P</tspan>=0.0597</text>
<text x="1143" y="1375"><tspan font-style="italic">P</tspan>=0.0582</text>
<text x="942" y="1517">H37Rv</text><text x="1094" y="1517">-</text><text x="1158" y="1517">Rv1272c</text>
<line x1="1090" y1="1530" x2="1270" y2="1530" stroke="#000" stroke-width="3"/>
<text x="1115" y="1561">ΔRv1272c</text>

<!-- ===== n ===== -->
<text x="1283" y="1152" class="b">n</text>
<g fill="#d9575f"><rect x="1380" y="1170" width="14" height="44" rx="7" transform="rotate(35 1387 1192)"/><rect x="1394" y="1178" width="14" height="44" rx="7" transform="rotate(35 1401 1200)"/><rect x="1395" y="1162" width="14" height="40" rx="7" transform="rotate(40 1402 1182)"/></g>
<text x="1415" y="1198" font-style="italic">Mtb</text>
<text x="1270" y="1250">DMSO</text><text x="1440" y="1250">Lecithin</text>
<line x1="1385" y1="1218" x2="1358" y2="1250" stroke="#000" stroke-width="1.5"/><path d="M1352 1254 L1356 1244 L1362 1249Z"/>
<line x1="1443" y1="1222" x2="1470" y2="1252" stroke="#000" stroke-width="1.5"/>
<text x="1398" y="1276">14d</text>
<rect x="1328" y="1262" width="28" height="12" fill="#e07020"/><path d="M1332 1274 L1332 1300 L1310 1352 Q1342 1366 1378 1352 L1356 1300 L1356 1274Z" fill="#aaa" stroke="#777" stroke-width="1.5"/>
<rect x="1332" y="1348" width="22" height="8" rx="4" fill="#d9575f"/>
<rect x="1467" y="1262" width="28" height="12" fill="#e07020"/><path d="M1471 1274 L1471 1300 L1449 1352 Q1481 1366 1517 1352 L1495 1300 L1495 1274Z" fill="#f2b7bd" stroke="#d98" stroke-width="1.5"/>
<rect x="1470" y="1346" width="22" height="8" rx="4" fill="#d9575f"/>
<text x="1420" y="1393">24h</text><text x="1393" y="1417">MOI=5</text>
<line x1="1340" y1="1368" x2="1340" y2="1425" stroke="#000" stroke-width="2"/><path d="M1333 1420 L1340 1432 L1347 1420Z"/>
<line x1="1474" y1="1368" x2="1474" y2="1425" stroke="#000" stroke-width="2"/><path d="M1467 1420 L1474 1432 L1481 1420Z"/>
<g fill="#d9575f"><rect x="1352" y="1392" width="7" height="22" rx="3" transform="rotate(20 1355 1403)"/><rect x="1486" y="1392" width="7" height="22" rx="3" transform="rotate(20 1489 1403)"/></g>
<circle cx="1349" cy="1465" r="42" fill="#f6e8da" stroke="#888" stroke-width="1.5"/><circle cx="1482" cy="1470" r="42" fill="#f6e8da" stroke="#888" stroke-width="1.5"/>
<g fill="#e7c49e"><circle cx="1330" cy="1450" r="9"/><circle cx="1355" cy="1440" r="9"/><circle cx="1372" cy="1462" r="9"/><circle cx="1338" cy="1478" r="9"/><circle cx="1360" cy="1490" r="9"/><circle cx="1463" cy="1455" r="9"/><circle cx="1490" cy="1448" r="9"/><circle cx="1500" cy="1475" r="9"/><circle cx="1470" cy="1485" r="9"/></g>
<line x1="1415" y1="1470" x2="1415" y2="1492" stroke="#000" stroke-width="3"/><path d="M1407 1488 L1415 1502 L1423 1488Z"/>
<text x="1355" y="1530">GC-MS</text>
</svg>
</body></html>
